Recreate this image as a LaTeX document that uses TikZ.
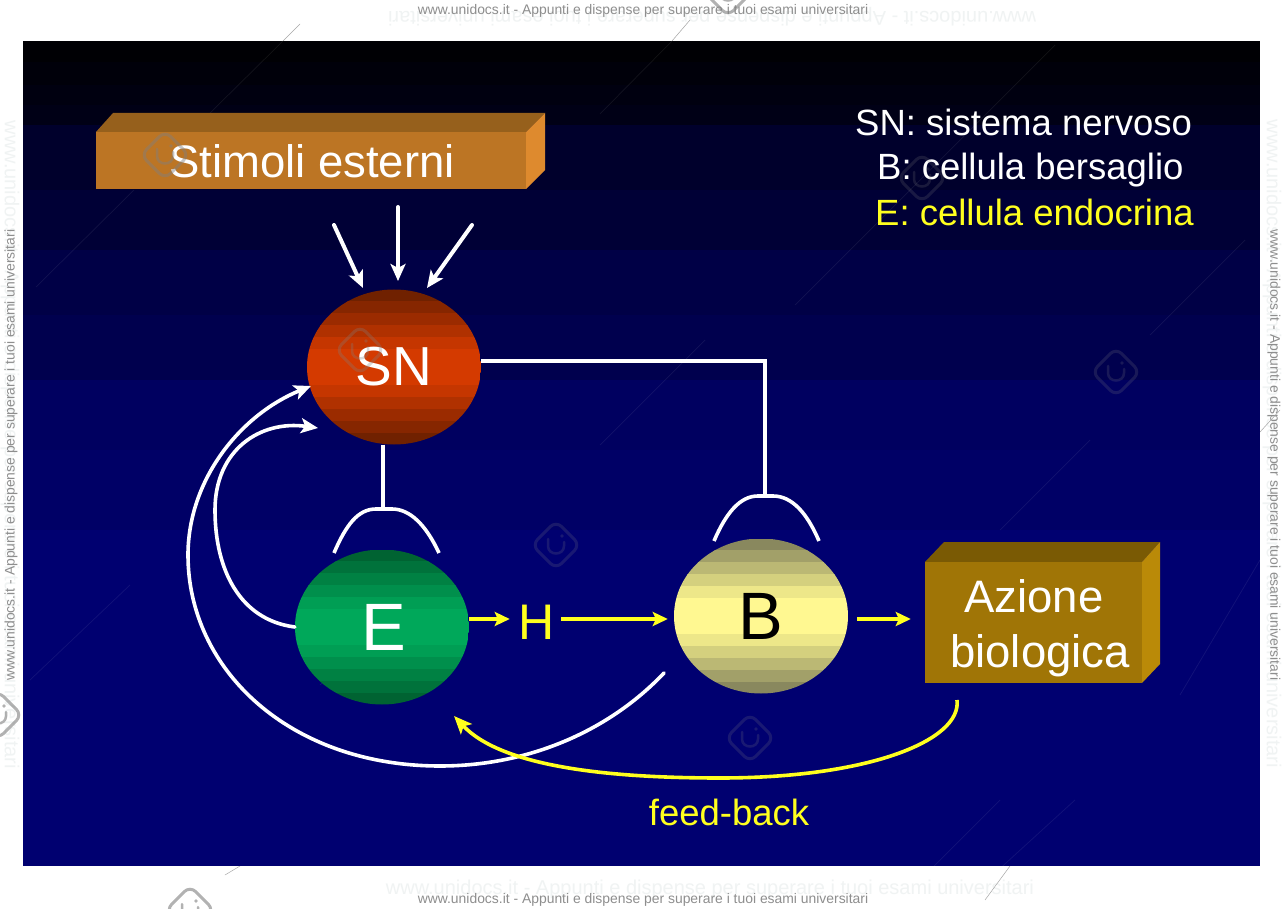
\documentclass[tikz,border=0pt]{standalone}
\usepackage{fontspec}
\setmainfont{Liberation Sans}
\usetikzlibrary{arrows.meta,shapes.geometric,calc}
\definecolor{wmgrey}{HTML}{8E8E8E}
\definecolor{wmpale}{HTML}{F0F3F3}
\definecolor{yel}{HTML}{FFFF1E}
\definecolor{stimtop}{HTML}{96601C}
\definecolor{stimside}{HTML}{DE8A2E}
\definecolor{stimfront}{HTML}{BC7524}
\definecolor{aztop}{HTML}{7A5A04}
\definecolor{azside}{HTML}{BA8A08}
\definecolor{azfront}{HTML}{A07506}
\definecolor{snmid}{HTML}{D43A00}
\definecolor{snedge}{HTML}{661E00}
\definecolor{emid}{HTML}{00A85A}
\definecolor{eedge}{HTML}{005C2E}
\definecolor{bmid}{HTML}{FFF891}
\definecolor{bedge}{HTML}{7C7C58}
\newcommand{\wmtext}{www.unidocs.it - Appunti e dispense per superare i tuoi esami universitari}
\newcommand{\fs}[1]{\fontsize{#1}{#1}\selectfont}
\newcommand{\drawbands}[3]{%
  \foreach \i in {0,...,12}{%
    \pgfmathsetmacro{\tt}{abs(2*(\i+0.5)/13-1)}%
    \pgfmathsetmacro{\pp}{min(100,125*(1-\tt))}%
    \pgfmathsetmacro{\ya}{-\i*#3/13}%
    \pgfmathsetmacro{\yb}{-(\i+1)*#3/13-0.3}%
    \fill[#1!\pp!#2] ([yshift=\ya pt]path picture bounding box.north west) rectangle ([yshift=\yb pt]path picture bounding box.north east);
  }}
\tikzset{
  x=1pt,y=-1pt,
  ball/.style={ellipse,minimum width=174,minimum height=155,inner sep=0,text=white,font=\fs{#1}},
  wire/.style={draw=white,line width=3.6,line cap=round},
  wirehead/.style={wire,-{Stealth[length=17pt,width=15pt,inset=4pt]}},
  yline/.style={draw=yel,line width=3.6,-{Stealth[length=15pt,width=14pt,inset=3pt]}},
  legend/.style={anchor=base west,inner sep=0,font=\fs{36.5}},
  boxtext/.style={inner sep=0,text=white,font=\fs{45}},
  front/.style={rectangle,inner sep=0},
  wmark/.style={inner sep=0,text=wmgrey,font=\fs{13.9}},
  wmfade/.style={inner sep=0,text=wmpale,font=\fs{20}},
  faintline/.style={draw=white,opacity=.07,line width=.7},
  marginline/.style={draw=gray!70,line width=.5},
  logo/.style={draw=#1,line width=3,rounded corners=8},
}
\newcommand{\logoicon}[4]{%
  \begin{scope}[shift={(#1,#2)},opacity=#4]
    \draw[logo=#3,rotate=45] (-17,-17) rectangle (17,17);
    \draw[draw=#3,line width=2.5,line cap=round] (-8,-6) -- (-8,1) .. controls (-8,11) and (8,11) .. (8,1) -- (8,-3);
    \fill[#3] (6,-9) circle[radius=1.8];
  \end{scope}}
\begin{document}
\begin{tikzpicture}
\useasboundingbox (0,0) rectangle (1286,909);
\fill[white] (0,0) rectangle (1286,909);
% margin watermarks
\node[wmfade,rotate=180] (wmA) at (712,17) {\wmtext};
\node[wmfade] (wmB) at (710,889) {\wmtext};
\node[wmfade,rotate=-90] (wmC) at (10,445) {\wmtext};
\node[wmfade,rotate=-90] (wmD) at (1272,444) {\wmtext};
\node[wmark] (wmE) at (643,11) {\wmtext};
\node[wmark] (wmF) at (643,899.5) {\wmtext};
\node[wmark,rotate=90] (wmG) at (11,455) {\wmtext};
\node[wmark,rotate=-90] (wmH) at (1274,455) {\wmtext};
\foreach \xa/\ya/\xb/\yb in {300/24/283/41,690/20/672/41,240/866/225/875,1010/866/985/900,1280/410/1260/432}{
  \draw[marginline] (\xa,\ya) -- (\xb,\yb);
}
% slide background
\fill[black] (23,41) rectangle (1260,866);
\foreach \ya/\yb/\col in {
  41/62/000004,62/85/00000A,85/105/000010,105/125/000016,125/190/00002C,190/250/000036,
  250/315/000046,315/380/00004E,380/450/000060,450/530/000066,530/866/000070}{
  \definecolor{bandcol}{HTML}{\col}
  \fill[bandcol] (23,\ya) rectangle (1260,\yb);
}
% faint watermark lines
\foreach \xa/\ya/\xb/\yb in {283/41/210/113,134/190/36/287,672/41/600/114,1055/45/795/305,
  1245/240/1150/335,705/340/600/445,1090/440/1000/530,130/585/30/680,420/585/320/685,
  1000/800/900/900,1260/560/1180/695,1075/800/960/905,800/560/700/660}{
  \draw[faintline] (\xa,\ya) -- (\xb,\yb);
}
% Stimoli box
\fill[stimtop] (96,132) -- (113,113) -- (545,113) -- (526,132) -- cycle;
\fill[stimside] (526,132) -- (545,113) -- (545,170) -- (526,189) -- cycle;
\node[front,fill=stimfront,minimum width=430,minimum height=57] (stim) at (311,160.5) {};
\node[boxtext,anchor=base,font=\fs{45.5}] (stimtext) at (312,178) {Stimoli esterni};
% Azione box
\fill[aztop] (925,562) -- (944,542) -- (1160,542) -- (1142,562) -- cycle;
\fill[azside] (1142,562) -- (1160,542) -- (1160,664) -- (1142,683) -- cycle;
\node[front,fill=azfront,minimum width=217,minimum height=121] (azione) at (1033.5,622.5) {};
\node[boxtext,anchor=base,font=\fs{45.5}] (aztextA) at (1034,612) {Azione};
\node[boxtext,anchor=base,font=\fs{45.5}] (aztextB) at (1040,667) {biologica};
% spheres
\node[ball=55,path picture={\drawbands{snmid}{snedge}{155}}] (SN) at (394,367) {\raisebox{-2pt}{SN}};
\node[ball=67,path picture={\drawbands{emid}{eedge}{155}}] (E) at (382,627) {\hspace*{3pt}\raisebox{-3pt}{E}};
\node[ball=67,text=black,path picture={\drawbands{bmid}{bedge}{155}}] (B) at (761,616) {\raisebox{-4pt}{B}};
% legend
\node[legend,text=white] (legA) at (855,136) {SN: sistema nervoso};
\node[legend,text=white] (legB) at (877,180) {B: cellula bersaglio};
\node[legend,text=yel] (legC) at (875,226) {E: cellula endocrina};
% hormone and feed-back labels
\coordinate (hline) at (0,619);
\node[inner sep=0,text=yel,font=\fs{50}] (H) at (537,622) {H};
\node[legend,anchor=base,text=yel] (fb) at (729,825) {feed-back};
% free ends
\coordinate (sA) at (334,225);  \coordinate (tA) at (363,288);
\coordinate (sB) at (398,207);  \coordinate (tB) at (398,281);
\coordinate (sC) at (472,225);  \coordinate (tC) at (427,288);
\coordinate (capEl) at (334,553); \coordinate (capEt) at (383,509); \coordinate (capEr) at (439,553);
\coordinate (capBl) at (714,541); \coordinate (capBt) at (765,496); \coordinate (capBr) at (819,541);
\coordinate (snIn) at (311,386); \coordinate (snInb) at (318,428);
\coordinate (Bout) at (664,673);
\coordinate (Aout) at (957,700); \coordinate (Ein) at (454,716);
\coordinate (snOut) at (0,361);
% stimulus arrows
\draw[wirehead,line width=4] (sA) -- (tA);
\draw[wirehead,line width=4] (sB) -- (tB);
\draw[wirehead,line width=4] (sC) -- (tC);
% nerve links
\draw[wire,line cap=butt] (SN.south -| capEt) -- (capEt);
\draw[wire,line cap=butt] (capEl) .. controls (346,525) and (358,509) .. (376,509) -- (capEt) -- (392,509) .. controls (410,509) and (426,525) .. (capEr);
\draw[wire,line cap=butt,line join=miter] (SN.east |- snOut) -- (capBt |- snOut) -- (capBt);
\draw[wire,line cap=butt] (capBl) .. controls (726,513) and (740,496) .. (758,496) -- (capBt) -- (773,496) .. controls (792,496) and (807,513) .. (capBr);
% feedback to SN
\draw[wirehead] (E.west) .. controls (240,620) and (215,570) .. (215,510) .. controls (215,450) and (260,420) .. (snInb);
\draw[wirehead] (Bout) .. controls (610,730) and (530,766) .. (440,766) .. controls (290,766) and (188,670) .. (188,555) .. controls (188,480) and (240,415) .. (snIn);
\draw[yline,-{Stealth[length=18pt,width=15pt,inset=4pt]}] (Aout) .. controls (962,740) and (870,778) .. (720,778) .. controls (600,778) and (500,765) .. (Ein);
% hormone arrows
\draw[yline] (E.east |- hline) -- ([xshift=-9]H.west |- hline);
\draw[yline,shorten >=6] ([xshift=6]H.east |- hline) -- (B.west |- hline);
\draw[yline,shorten <=9,shorten >=14] (B.east |- hline) -- (azione.west |- hline);
% logo watermarks
\logoicon{165}{155}{gray}{.45}
\logoicon{360}{350}{gray}{.3}
\logoicon{922}{178}{gray}{.2}
\logoicon{556}{545}{gray}{.2}
\logoicon{750}{738}{gray}{.2}
\logoicon{1116}{372}{gray}{.2}
\logoicon{190}{910}{gray}{.6}
\logoicon{-2}{715}{gray}{.6}
\logoicon{728}{-8}{gray}{.6}
\end{tikzpicture}
\end{document}
